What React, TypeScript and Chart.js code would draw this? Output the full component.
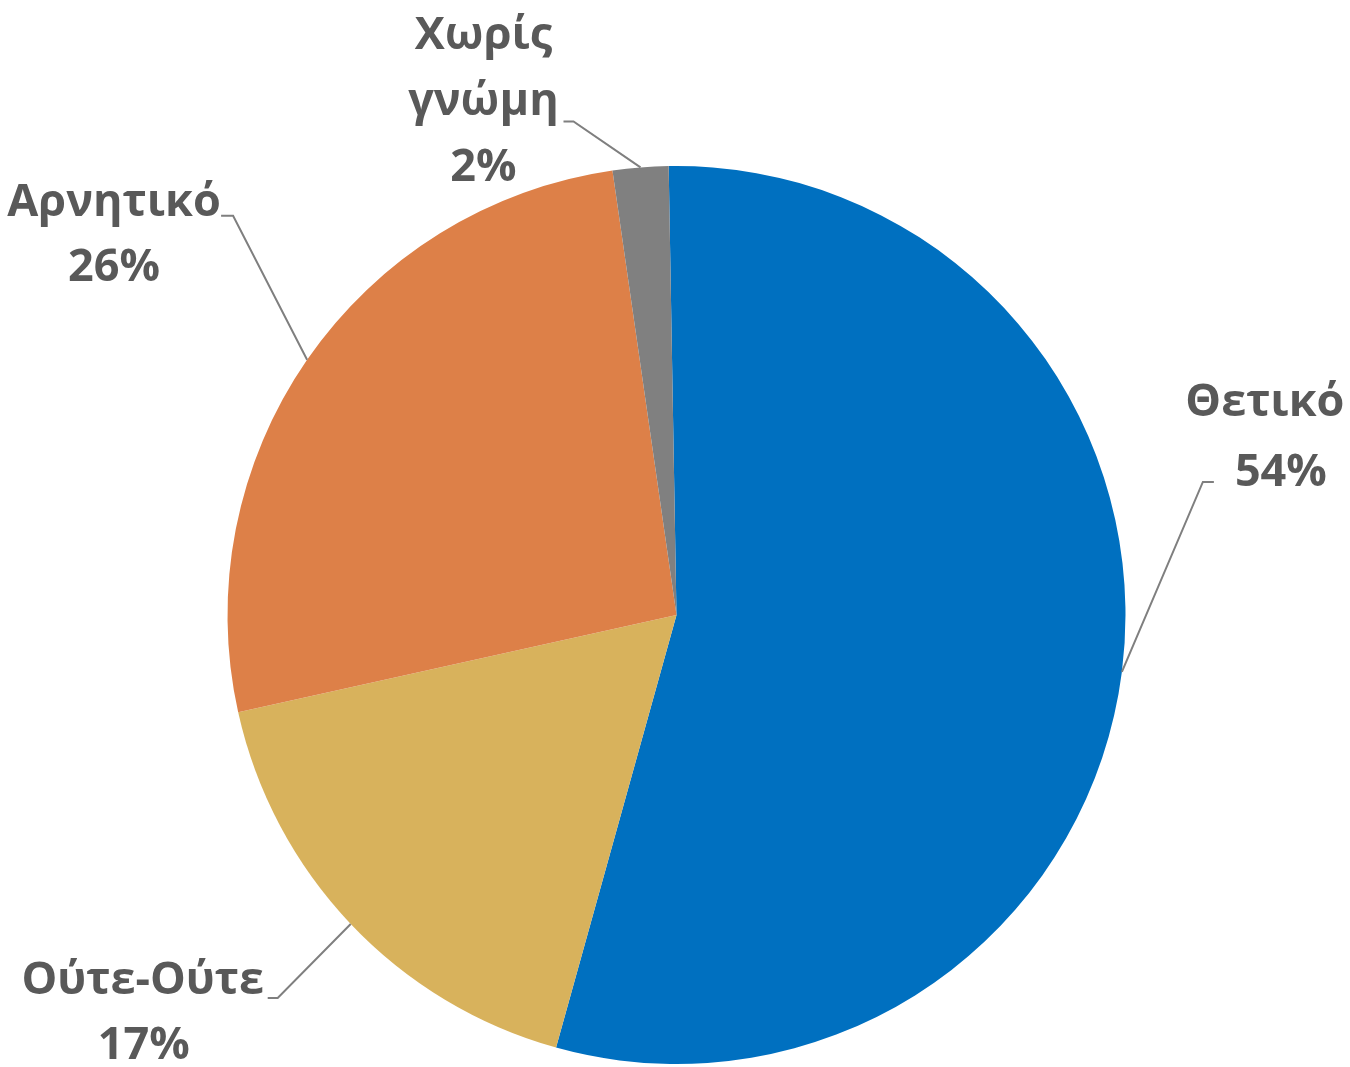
import React, { useEffect, useRef } from "react";
import { Chart, registerables } from "chart.js";

Chart.register(...registerables);

const categories = ["Θετικό", "Ούτε-Ούτε", "Αρνητικό", "Χωρίς γνώμη"];
const labelLines = [["Θετικό"], ["Ούτε-Ούτε"], ["Αρνητικό"], ["Χωρίς", "γνώμη"]];
const values = [54.6, 17.2, 26.2, 2.0];
const percentLabels = ["54%", "17%", "26%", "2%"];
const colors = ["#0070C0", "#D8B25C", "#DD8048", "#808080"];

// leader-line geometry relative to the slice's outer mid-point, text relative to the line end
const leaderStyle = [
  { elbow: [81, -190], hor: 11, tx: 51, ty: -66, lh: 70, dx: [0, 16] },
  { elbow: [-73, 74], hor: -10, tx: -125, ty: -4, lh: 65, dx: [0, 1] },
  { elbow: [-74, -144], hor: -12, tx: -107, ty: 0, lh: 65, dx: [0, 0] },
  { elbow: [-67, -46], hor: -10, tx: -80, ty: -72, lh: 66, dx: [0, 0, 0] },
];

const labelPlugin = {
  id: "pieLabels",
  afterDatasetsDraw(chart: any) {
    const ctx = chart.ctx;
    const meta = chart.getDatasetMeta(0);
    meta.data.forEach((arc: any, i: number) => {
      const p = arc.getProps(["x", "y", "startAngle", "endAngle", "outerRadius"], true);
      const mid = (p.startAngle + p.endAngle) / 2;
      const ex = p.x + Math.cos(mid) * p.outerRadius;
      const ey = p.y + Math.sin(mid) * p.outerRadius;
      const s = leaderStyle[i];
      const bx = ex + s.elbow[0];
      const by = ey + s.elbow[1];
      const hx = bx + s.hor;
      ctx.save();
      ctx.strokeStyle = "#7F7F7F";
      ctx.lineWidth = 2;
      ctx.beginPath();
      ctx.moveTo(ex, ey);
      ctx.lineTo(bx, by);
      ctx.lineTo(hx, by);
      ctx.stroke();
      ctx.fillStyle = "#595959";
      ctx.font = "bold 45px 'Open Sans'";
      ctx.textAlign = "center";
      ctx.textBaseline = "alphabetic";
      const lines = [...labelLines[i], percentLabels[i]];
      const cx = hx + s.tx;
      lines.forEach((t, k) => {
        ctx.fillText(t, cx + (s.dx[k] || 0), by + s.ty + k * s.lh);
      });
      ctx.restore();
    });
  },
};

export default function App() {
  const ref = useRef<HTMLCanvasElement | null>(null);
  useEffect(() => {
    if (!ref.current) return;
    const chart = new Chart(ref.current, {
      type: "pie",
      data: {
        labels: categories,
        datasets: [
          {
            data: values,
            backgroundColor: colors,
            borderWidth: 0,
          },
        ],
      },
      options: {
        responsive: false,
        animation: false,
        rotation: -1,
        layout: { padding: { left: 227, right: 224, top: 166, bottom: 3 } },
        plugins: {
          legend: { display: false },
          tooltip: { enabled: false },
        },
      },
      plugins: [labelPlugin],
    });
    return () => chart.destroy();
  }, []);
  return (
    <div style={{ position: "fixed", left: 0, top: 0, width: 1350, height: 1067, background: "#fff" }}>
      <canvas ref={ref} width={1350} height={1067} style={{ width: 1350, height: 1067 }} />
    </div>
  );
}
